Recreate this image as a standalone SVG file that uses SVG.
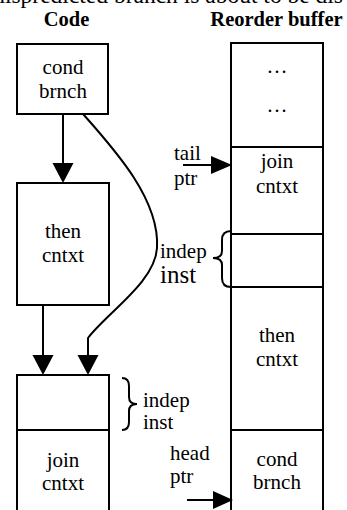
<svg xmlns="http://www.w3.org/2000/svg" width="347" height="510" viewBox="0 0 347 510">
<style>
text{font-family:"Liberation Serif","Times New Roman",serif;font-size:21px;fill:#000}
.c{text-anchor:middle}
.h{font-weight:bold;font-size:20.5px;text-anchor:middle}
.box{fill:#fff;stroke:#000;stroke-width:2}
.ln{fill:none;stroke:#000;stroke-width:2}
.ah{fill:#000;stroke:none}
</style>
<rect width="347" height="510" fill="#fff"/>
<text x="343" y="3" style="font-size:23.5px;text-anchor:end">mispredicted branch is about to be dis</text>
<text class="h" x="66.5" y="26">Code</text>
<text class="h" x="276.5" y="26">Reorder buffer</text>

<g id="code-cond">
<rect class="box" x="17" y="44" width="91" height="70"/>
<text class="c" x="63" y="74">cond</text>
<text class="c" x="63" y="98">brnch</text>
</g>
<g id="code-then">
<rect class="box" x="17" y="183" width="92" height="122"/>
<text class="c" x="63" y="238">then</text>
<text class="c" x="63" y="262">cntxt</text>
</g>
<g id="code-join">
<rect class="box" x="17" y="375" width="92" height="140"/>
<line class="ln" x1="17" y1="430" x2="109" y2="430"/>
<text class="c" x="63" y="467">join</text>
<text class="c" x="63" y="490">cntxt</text>
</g>
<g id="rob">
<rect class="box" x="231" y="43" width="92" height="475"/>
<line class="ln" x1="231" y1="147" x2="323" y2="147"/>
<line class="ln" x1="231" y1="234" x2="323" y2="234"/>
<line class="ln" x1="231" y1="287" x2="323" y2="287"/>
<line class="ln" x1="231" y1="430" x2="323" y2="430"/>
<text class="c" x="277" y="73">…</text>
<text class="c" x="277" y="112">…</text>
<text class="c" x="277" y="168">join</text>
<text class="c" x="277" y="193">cntxt</text>
<text class="c" x="277" y="342">then</text>
<text class="c" x="277" y="366">cntxt</text>
<text class="c" x="277" y="466">cond</text>
<text class="c" x="277" y="489">brnch</text>
</g>
<g id="labels">
<text x="174" y="160">tail</text>
<text x="174" y="185">ptr</text>
<text x="160" y="258">indep</text>
<text x="160" y="283" style="font-size:25px">inst</text>
<text x="143" y="407">indep</text>
<text x="143" y="429">inst</text>
<text x="170" y="460">head</text>
<text x="170" y="483">ptr</text>
</g>
<g id="connectors">
<line class="ln" x1="63" y1="114" x2="63" y2="165"/>
<polygon class="ah" points="52.5,163 73.5,163 63,183"/>
<path class="ln" d="M83,114 C115,150 160,200 157,248 C155,282 108,312 88,338 L88,357"/>
<polygon class="ah" points="77.5,355 98.5,355 88,375"/>
<line class="ln" x1="43" y1="305" x2="43" y2="357"/>
<polygon class="ah" points="32.5,355 53.5,355 43,375"/>
<line class="ln" x1="183" y1="165" x2="213" y2="165"/>
<polygon class="ah" points="211,156 211,174 232,165"/>
<line class="ln" x1="187" y1="500" x2="215" y2="500"/>
<polygon class="ah" points="213,491 213,509 233,500"/>
<path class="ln" d="M231,231 Q222,231 222,240 L222,251 Q222,258 213,258 Q222,258 222,265 L222,278 Q222,287 231,287"/>
<path class="ln" d="M122,378 Q129,378 129,386 L129,397 Q129,404 137,404 Q129,404 129,411 L129,422 Q129,430 122,430"/>
</g>
</svg>
